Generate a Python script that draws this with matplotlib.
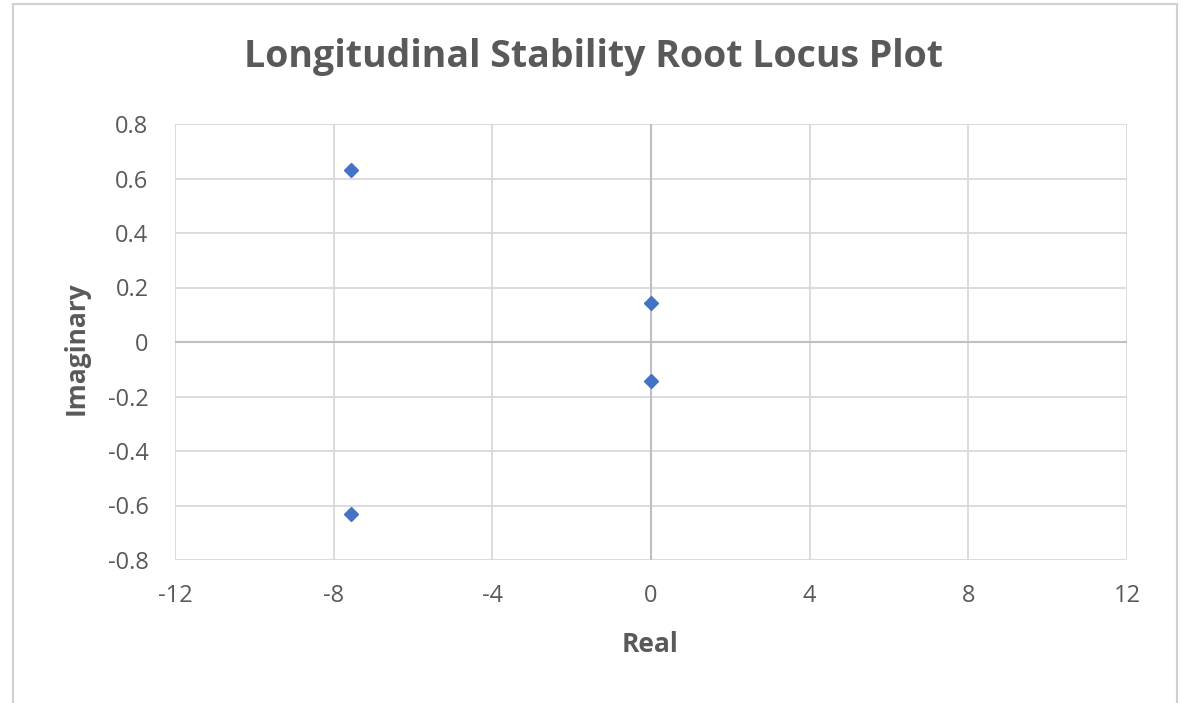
import matplotlib.pyplot as plt
from matplotlib.patches import Rectangle
import numpy as np

# raices (parte real, parte imaginaria)
parte_real = [-7.56, -7.56, 0.0, 0.0]
parte_imag = [0.632, -0.632, 0.143, -0.143]

x_ticks = [-12, -8, -4, 0, 4, 8, 12]
y_ticks = [-0.8, -0.6, -0.4, -0.2, 0, 0.2, 0.4, 0.6, 0.8]

gris = "#595959"
plt.rcParams["font.family"] = ["Open Sans", "DejaVu Sans"]

W, H = 1183, 703
fig = plt.figure(figsize=(W / 100, H / 100), dpi=100)
ax = fig.add_axes([175 / W, 1 - 560 / H, 952 / W, 436 / H])

# borde del area del grafico (el de abajo queda fuera de la imagen)
fig.patches.append(Rectangle((13 / W, -0.05), 1164 / W, 1.05 - 4 / H,
                             transform=fig.transFigure, fill=False,
                             edgecolor="#d0d0d0", linewidth=1.5))

ax.set_xlim(-12, 12)
ax.set_ylim(-0.8, 0.8)
ax.set_xticks(x_ticks)
ax.set_yticks(y_ticks)
ax.set_xticklabels([str(t) for t in x_ticks])
ax.set_yticklabels(["0" if t == 0 else f"{t:.1f}" for t in y_ticks])
ax.grid(True, color="#d9d9d9", linewidth=1.3)
ax.set_axisbelow(True)
for s in ax.spines.values():
    s.set_visible(False)
ax.tick_params(length=0, labelsize=17, colors=gris)
ax.tick_params(axis="x", pad=17)
ax.tick_params(axis="y", pad=19)

# ejes en cero
ax.axhline(0, color="#bfbfbf", linewidth=1.5, zorder=1)
ax.axvline(0, color="#bfbfbf", linewidth=1.5, zorder=1)

ax.plot(parte_real, parte_imag, "D", color="#4472C4", markersize=7.5, zorder=3)

fig.text(649.5 / W, 1 - 645 / H, "Real", ha="center", va="center",
         fontsize=19, fontweight="bold", color=gris)
fig.text(76 / W, 1 - 348 / H, "Imaginary", ha="center", va="center",
         rotation=90, fontsize=19, fontweight="bold", color=gris)
fig.text(594 / W, 1 - 57 / H, "Longitudinal Stability Root Locus Plot",
         ha="center", va="center", fontsize=27, fontweight="bold", color=gris)

fig.savefig("out.png", dpi=100)
